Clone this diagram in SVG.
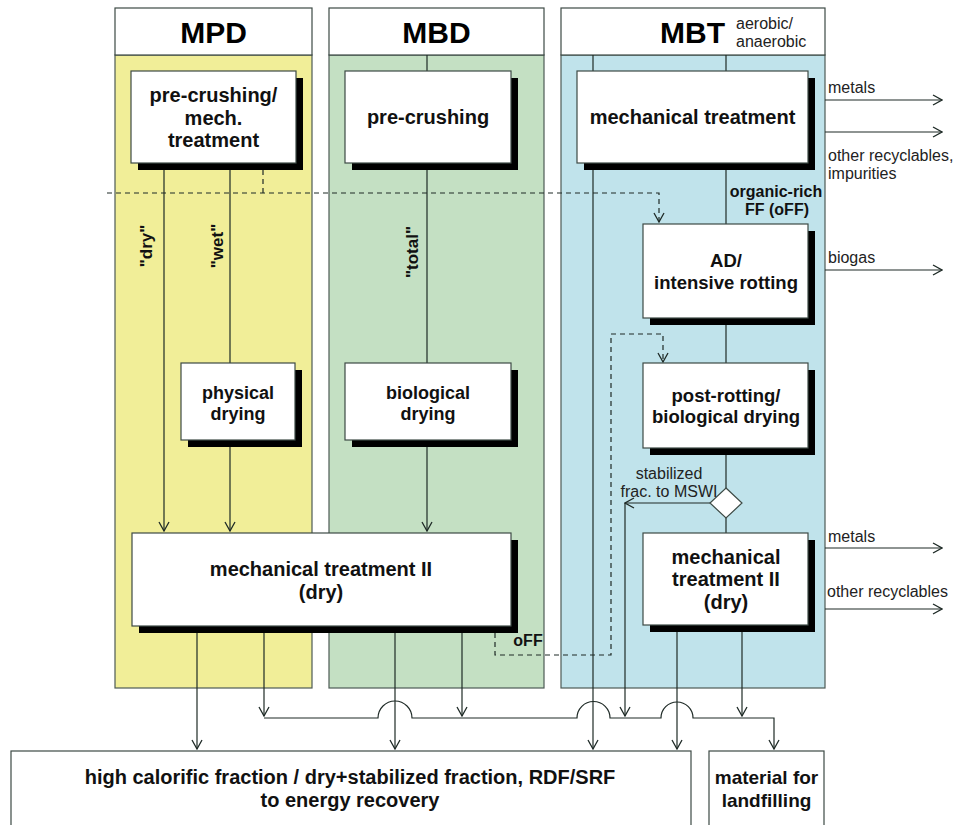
<svg xmlns="http://www.w3.org/2000/svg" width="959" height="825" viewBox="0 0 959 825">
<style>
  .lane { stroke: #4d5a55; stroke-width: 1.2; }
  .hdr { fill: #ffffff; stroke: #3d4a45; stroke-width: 1.2; }
  .box { fill: #ffffff; stroke: #3d4a45; stroke-width: 1.2; }
  .shadow { fill: #000000; }
  .t { font-family: "Liberation Sans", Arial, sans-serif; font-weight: bold; fill: #111; text-anchor: middle; }
  .h { font-family: "Liberation Sans", Arial, sans-serif; font-weight: bold; font-size: 30px; fill: #000; }
  .s { font-family: "Liberation Sans", Arial, sans-serif; font-size: 16px; fill: #222; }
  .c { fill: none; stroke: #1e2a26; stroke-width: 1.2; }
  .d { fill: none; stroke: #1e2a26; stroke-width: 1.2; stroke-dasharray: 5,4; }
</style>
<defs>
  <marker id="arr" markerUnits="userSpaceOnUse" markerWidth="12" markerHeight="12" viewBox="0 0 12 12" refX="11" refY="6" orient="auto">
    <path d="M2,1 L11,6 L2,11" fill="none" stroke="#1e2a26" stroke-width="1.3"/>
  </marker>
</defs>
<rect width="959" height="825" fill="#ffffff"/>

<!-- lanes -->
<g id="lane-MPD">
  <rect class="lane" x="115" y="55" width="197" height="633" fill="#f1ee98"/>
  <rect class="hdr" x="115" y="8" width="197" height="47"/>
  <text class="h" x="213.5" y="43" text-anchor="middle">MPD</text>
</g>
<g id="lane-MBD">
  <rect class="lane" x="329" y="55" width="215" height="633" fill="#c4e0c3"/>
  <rect class="hdr" x="329" y="8" width="215" height="47"/>
  <text class="h" x="436.5" y="43" text-anchor="middle">MBD</text>
</g>
<g id="lane-MBT">
  <rect class="lane" x="561" y="55" width="264" height="633" fill="#c0e3eb"/>
  <rect class="hdr" x="561" y="8" width="264" height="47"/>
  <text class="h" x="725" y="43" text-anchor="end">MBT</text>
  <text class="s" x="736" y="29">aerobic/</text>
  <text class="s" x="736" y="47">anaerobic</text>
</g>

<!-- connectors -->
<g id="connectors">
  <!-- MPD -->
  <path class="c" d="M164,163 V531" marker-end="url(#arr)"/>
  <path class="c" d="M230,163 V363"/>
  <path class="c" d="M230,447 V531" marker-end="url(#arr)"/>
  <path class="d" d="M263,170 V193"/>
  <path class="d" d="M107,193 H659 V222" marker-end="url(#arr)"/>
  <!-- MBD -->
  <path class="c" d="M427,55 V363"/>
  <path class="c" d="M427,447 V531" marker-end="url(#arr)"/>
  <!-- MBT -->
  <path class="c" d="M593,55 V749" marker-end="url(#arr)"/>
  <path class="c" d="M726,55 V71"/>
  <path class="c" d="M726,170 V224"/>
  <path class="c" d="M726,325 V363"/>
  <path class="c" d="M726,455 V488"/>
  <path class="c" d="M726,518 V533"/>
  <path class="c" d="M710,503 H625" marker-end="url(#arr)"/>
  <path class="c" d="M625,503 V716" marker-end="url(#arr)"/>
  <path class="d" d="M495,633 V655 H611 V334 H663 V362" marker-end="url(#arr)"/>
  <!-- side outputs -->
  <path class="c" d="M825,100 H942" marker-end="url(#arr)"/>
  <path class="c" d="M825,132 H942" marker-end="url(#arr)"/>
  <path class="c" d="M825,270 H942" marker-end="url(#arr)"/>
  <path class="c" d="M825,548 H942" marker-end="url(#arr)"/>
  <path class="c" d="M825,609 H942" marker-end="url(#arr)"/>
  <!-- bottom outputs -->
  <path class="c" d="M197,633 V749" marker-end="url(#arr)"/>
  <path class="c" d="M264,633 V716" marker-end="url(#arr)"/>
  <path class="c" d="M395,633 V749" marker-end="url(#arr)"/>
  <path class="c" d="M462,633 V716" marker-end="url(#arr)"/>
  <path class="c" d="M677,632 V749" marker-end="url(#arr)"/>
  <path class="c" d="M742,632 V716" marker-end="url(#arr)"/>
  <path class="c" d="M264,718 H378 A17,17 0 0 1 412,718 H577 A16.5,16.5 0 0 1 610,718 H661 A16,16 0 0 1 693,718 H774 V749" marker-end="url(#arr)"/>
</g>

<!-- nodes -->
<g id="n-precrush-mpd">
  <rect class="shadow" x="138" y="78" width="165" height="92"/>
  <rect class="box" x="131" y="71" width="165" height="92"/>
  <text class="t" font-size="20" x="213.5" y="102">pre-crushing/</text>
  <text class="t" font-size="20" x="213.5" y="125">mech.</text>
  <text class="t" font-size="20" x="213.5" y="147">treatment</text>
</g>
<g id="n-precrush-mbd">
  <rect class="shadow" x="352" y="78" width="166" height="92"/>
  <rect class="box" x="345" y="71" width="166" height="92"/>
  <text class="t" font-size="20" x="428" y="124">pre-crushing</text>
</g>
<g id="n-mech-mbt">
  <rect class="shadow" x="584" y="78" width="231" height="92"/>
  <rect class="box" x="577" y="71" width="231" height="92"/>
  <text class="t" font-size="20" x="692.5" y="124">mechanical treatment</text>
</g>
<g id="n-ad">
  <rect class="shadow" x="650" y="231" width="165" height="94"/>
  <rect class="box" x="643" y="224" width="165" height="94"/>
  <text class="t" font-size="18.5" x="726" y="267">AD/</text>
  <text class="t" font-size="18.5" x="726" y="289">intensive rotting</text>
</g>
<g id="n-postrot">
  <rect class="shadow" x="650" y="370" width="165" height="85"/>
  <rect class="box" x="643" y="363" width="165" height="85"/>
  <text class="t" font-size="18.5" x="726" y="402">post-rotting/</text>
  <text class="t" font-size="18.5" x="726" y="423">biological drying</text>
</g>
<g id="n-physdry">
  <rect class="shadow" x="188" y="370" width="114" height="77"/>
  <rect class="box" x="181" y="363" width="114" height="77"/>
  <text class="t" font-size="18" x="238" y="399">physical</text>
  <text class="t" font-size="18" x="238" y="420">drying</text>
</g>
<g id="n-biodry">
  <rect class="shadow" x="352" y="370" width="166" height="77"/>
  <rect class="box" x="345" y="363" width="166" height="77"/>
  <text class="t" font-size="18" x="428" y="399">biological</text>
  <text class="t" font-size="18" x="428" y="420">drying</text>
</g>
<g id="n-mech2">
  <rect class="shadow" x="139" y="540" width="379" height="93"/>
  <rect class="box" x="132" y="533" width="379" height="93"/>
  <text class="t" font-size="20" x="321" y="576">mechanical treatment II</text>
  <text class="t" font-size="20" x="321" y="599">(dry)</text>
</g>
<g id="n-decision">
  <path d="M726,488 L742,503 L726,518 L710,503 Z" fill="#ffffff" stroke="#3d4a45" stroke-width="1.2"/>
</g>
<g id="n-mech2-mbt">
  <rect class="shadow" x="650" y="540" width="165" height="92"/>
  <rect class="box" x="643" y="533" width="165" height="92"/>
  <text class="t" font-size="20" x="726" y="564">mechanical</text>
  <text class="t" font-size="20" x="726" y="586">treatment II</text>
  <text class="t" font-size="20" x="726" y="609">(dry)</text>
</g>
<g id="n-energy">
  <rect class="box" x="11" y="751" width="680" height="90"/>
  <text class="t" font-size="20" x="350" y="784">high calorific fraction / dry+stabilized fraction, RDF/SRF</text>
  <text class="t" font-size="20" x="350" y="807">to energy recovery</text>
</g>
<g id="n-landfill">
  <rect class="box" x="709" y="751" width="115" height="90"/>
  <text class="t" font-size="19" x="766.5" y="784">material for</text>
  <text class="t" font-size="19" x="766.5" y="807">landfilling</text>
</g>

<!-- labels -->
<g id="labels">
  <text class="t" font-size="17" transform="translate(152,246) rotate(-90)">"dry"</text>
  <text class="t" font-size="17" transform="translate(223,246) rotate(-90)">"wet"</text>
  <text class="t" font-size="17" transform="translate(418,252) rotate(-90)">"total"</text>
  <text class="t" font-size="16" x="776" y="197">organic-rich</text>
  <text class="t" font-size="16" x="777" y="215">FF (oFF)</text>
  <text class="t" font-size="16" x="528" y="646">oFF</text>
  <text class="s" x="828" y="93">metals</text>
  <text class="s" x="828" y="161">other recyclables,</text>
  <text class="s" x="828" y="179">impurities</text>
  <text class="s" x="828" y="263">biogas</text>
  <text class="s" x="669" y="479" text-anchor="middle">stabilized</text>
  <text class="s" x="669" y="497" text-anchor="middle">frac. to MSWI</text>
  <text class="s" x="828" y="542">metals</text>
  <text class="s" x="827" y="597">other recyclables</text>
</g>
</svg>
